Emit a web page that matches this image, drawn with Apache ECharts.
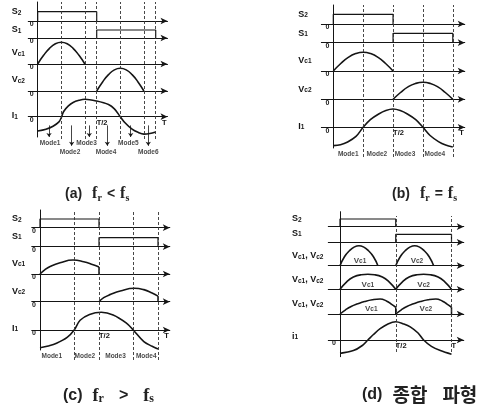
<!DOCTYPE html>
<html><head><meta charset="utf-8">
<script src="https://cdn.jsdelivr.net/npm/echarts@6/dist/echarts.min.js"></script>
<style>html,body{margin:0;padding:0;background:#fff}#c{width:485px;height:414px}</style>
</head><body><div id="c"></div>
<script>
// ================= DATA (time in units of the period T, amplitudes normalised) =================
const tickHalf = 'T/2';
const tickFull = 'T';
const tickZero = '0';
const modeNames6 = ['Mode1', 'Mode2', 'Mode3', 'Mode4', 'Mode5', 'Mode6'];
const modeNames4 = ['Mode1', 'Mode2', 'Mode3', 'Mode4'];

// (a) fr < fs
const aS2 = [[0, 0], [0, 1], [0.5, 1], [0.5, 0]];
const aS1 = [[0.5, 0], [0.5, 1], [1, 1], [1, 0]];
const aVc1 = [[0, 0], [0.05, 0.4], [0.1, 0.72], [0.15, 0.93], [0.2, 1], [0.25, 0.93], [0.3, 0.72], [0.35, 0.4], [0.4, 0]];
const aVc2 = [[0.5, 0], [0.55, 0.4], [0.6, 0.72], [0.65, 0.93], [0.7, 1], [0.75, 0.93], [0.8, 0.72], [0.85, 0.4], [0.9, 0]];
const aI1 = [[0, -0.82], [0.07, -0.72], [0.13, -0.55], [0.18, -0.3], [0.2, -0.05], [0.22, 0.3], [0.26, 0.62], [0.3, 0.82], [0.35, 0.94], [0.4, 1.0], [0.5, 0.9], [0.6, 0.7], [0.65, 0.45], [0.7, 0], [0.74, -0.35], [0.8, -0.72], [0.85, -0.9], [0.9, -1.0], [0.95, -0.97], [1.0, -0.88]];
const aBounds = [0.2, 0.4, 0.5, 0.7, 0.9, 1.0];
const aModeCenters = [0.105, 0.274, 0.414, 0.579, 0.768, 0.937];
const aModeArrows = [0.096, 0.288, 0.437, 0.59, 0.788, 0.937];

// (b) fr = fs
const bS2 = [[0, 0], [0, 1], [0.5, 1], [0.5, 0]];
const bS1 = [[0.5, 0], [0.5, 1], [1, 1], [1, 0]];
const bVc1 = [[0, 0], [0.0625, 0.4], [0.125, 0.73], [0.1875, 0.93], [0.25, 1], [0.3125, 0.93], [0.375, 0.73], [0.4375, 0.4], [0.5, 0]];
const bVc2 = [[0.5, 0], [0.5625, 0.4], [0.625, 0.73], [0.6875, 0.93], [0.75, 1], [0.8125, 0.93], [0.875, 0.73], [0.9375, 0.4], [1, 0]];
const bI1 = [[0, -1.0], [0.06, -0.95], [0.12, -0.8], [0.19, -0.5], [0.25, 0], [0.31, 0.42], [0.38, 0.73], [0.44, 0.92], [0.5, 1.0], [0.56, 0.92], [0.62, 0.73], [0.69, 0.42], [0.75, 0], [0.81, -0.45], [0.88, -0.78], [0.94, -0.97], [1.0, -1.08]];
const bBounds = [0.25, 0.5, 0.75, 1.0];
const bModeCenters = [0.125, 0.365, 0.6, 0.85];

// (c) fr > fs
const cS2 = [[0, 0], [0, 1], [0.5, 1], [0.5, 0]];
const cS1 = [[0.5, 0], [0.5, 1], [1, 1], [1, 0]];
const cVc1 = [[0, 0], [0.04, 0.3], [0.09, 0.55], [0.17, 0.8], [0.28, 1.0], [0.37, 0.88], [0.45, 0.66], [0.5, 0.5]];
const cVc2 = [[0.5, 0], [0.54, 0.3], [0.6, 0.55], [0.68, 0.8], [0.8, 1.0], [0.88, 0.9], [0.95, 0.65], [1.0, 0.42]];
const cI1 = [[0, -1.0], [0.07, -0.9], [0.14, -0.75], [0.23, -0.42], [0.29, 0], [0.34, 0.55], [0.42, 0.88], [0.52, 1.0], [0.62, 0.85], [0.73, 0.4], [0.79, 0], [0.88, -0.66], [0.95, -0.92], [1.0, -1.07]];
const cBounds = [0.29, 0.5, 0.79, 1.0];
const cModeCenters = [0.1, 0.38, 0.64, 0.9];

// (d) composite waveforms
const dS2 = [[0, 0], [0, 1], [0.5, 1], [0.5, 0]];
const dS1 = [[0.5, 0], [0.5, 1], [1, 1], [1, 0]];
const dLowVc1 = [[0, 0], [0.04, 0.45], [0.085, 0.75], [0.13, 0.94], [0.17, 1], [0.21, 0.94], [0.255, 0.75], [0.3, 0.45], [0.34, 0]];
const dLowVc2 = [[0.5, 0], [0.54, 0.45], [0.585, 0.75], [0.63, 0.94], [0.67, 1], [0.71, 0.94], [0.755, 0.75], [0.8, 0.45], [0.84, 0]];
const dEqVc1 = [[0, 0], [0.06, 0.5], [0.12, 0.82], [0.19, 0.97], [0.25, 1], [0.31, 0.97], [0.38, 0.82], [0.44, 0.5], [0.5, 0]];
const dEqVc2 = [[0.5, 0], [0.56, 0.5], [0.62, 0.82], [0.69, 0.97], [0.75, 1], [0.81, 0.97], [0.88, 0.82], [0.94, 0.5], [1, 0]];
const dHighVc1 = [[0, 0], [0.05, 0.28], [0.1, 0.5], [0.16, 0.68], [0.22, 0.83], [0.29, 0.95], [0.36, 1], [0.42, 0.85], [0.46, 0.66], [0.5, 0.45]];
const dHighVc2 = [[0.5, 0], [0.55, 0.28], [0.6, 0.5], [0.66, 0.68], [0.72, 0.83], [0.79, 0.95], [0.86, 1], [0.92, 0.85], [0.96, 0.66], [1, 0.45]];
const dI1 = [[0, -0.73], [0.12, -0.58], [0.2, -0.3], [0.25, 0], [0.3, 0.3], [0.36, 0.62], [0.43, 0.88], [0.5, 1.0], [0.57, 0.88], [0.63, 0.72], [0.7, 0.38], [0.75, 0], [0.82, -0.35], [0.9, -0.58], [1.0, -0.78]];
const dBounds = [0.5, 1.0];
const dHumpLabelT = [[0.18, 0.69], [0.25, 0.75], [0.28, 0.77]];
const dHumpLabelV = [0.24, 0.29, 0.38];

// ================= LAYOUT / STYLE =================
const ink = '#151515';
const FONT = '"Liberation Sans", Arial, "DejaVu Sans", sans-serif';
const SERIF = '"Liberation Serif", "DejaVu Serif", serif';
const KR = '"Noto Sans CJK KR", sans-serif';

const panels = [
  { x0: 37.7, s: 118, xmin: -0.08, xmax: 1.1, top: 2, nameGap: 26, zeroAll: true, tAtArrow: true,
    rows: [
      { label: 'S{s|2}', base: 21, unit: 9.3, labelY: 12, curves: [{ data: aS2 }] },
      { label: 'S{s|1}', base: 38, unit: 8, labelY: 30, curves: [{ data: aS1 }] },
      { label: 'V{s|c1}', base: 64, unit: 21.7, labelY: 53, curves: [{ data: aVc1, smooth: true }] },
      { label: 'V{s|c2}', base: 91, unit: 22.7, labelY: 80, curves: [{ data: aVc2, smooth: true }] },
      { label: 'I{s|1}', base: 116.7, unit: 17.4, bottom: 137, labelY: 116, curves: [{ data: aI1, smooth: 0.35 }], isI: true }
    ],
    dash: { top: 2, bottom: 139, values: aBounds },
    modes: { top: 122, bottom: 156, names: modeNames6, centers: aModeCenters, levels: [0.374, 0.109],
             arrows: aModeArrows, arrowTop: 0.9, arrowEnds: [0.56, 0.3] }
  },
  { x0: 333.3, s: 119.5, xmin: -0.1, xmax: 1.1, top: 5, nameGap: 35, zeroAll: true, tAtArrow: true,
    rows: [
      { label: 'S{s|2}', base: 24, unit: 9.7, labelY: 14.3, curves: [{ data: bS2 }] },
      { label: 'S{s|1}', base: 42.7, unit: 9.4, labelY: 33.3, curves: [{ data: bS1 }] },
      { label: 'V{s|c1}', base: 71, unit: 18.7, labelY: 60.7, curves: [{ data: bVc1, smooth: true }] },
      { label: 'V{s|c2}', base: 99.3, unit: 17, labelY: 89.3, curves: [{ data: bVc2, smooth: true }] },
      { label: 'I{s|1}', base: 127.3, unit: 18.3, bottom: 148, labelY: 126.7, curves: [{ data: bI1, smooth: 0.35 }], isI: true }
    ],
    dash: { top: 5, bottom: 157, values: bBounds },
    modes: { top: 150, bottom: 158, names: modeNames4, centers: bModeCenters, levels: [0.5] }
  },
  { x0: 40, s: 118, xmin: -0.07, xmax: 1.1, top: 210, nameGap: 28, zeroAll: true, tAtArrow: true,
    rows: [
      { label: 'S{s|2}', base: 227.7, unit: 8.7, labelY: 219, curves: [{ data: cS2 }] },
      { label: 'S{s|1}', base: 246.7, unit: 9, labelY: 236.7, curves: [{ data: cS1 }] },
      { label: 'V{s|c1}', base: 274, unit: 14, labelY: 263.3, curves: [{ data: cVc1, smooth: true, drop: true }] },
      { label: 'V{s|c2}', base: 301.7, unit: 13.4, labelY: 291.7, curves: [{ data: cVc2, smooth: true, drop: true }] },
      { label: 'I{s|1}', base: 330, unit: 17.7, bottom: 350, labelY: 328.3, curves: [{ data: cI1, smooth: 0.35 }], isI: true }
    ],
    dash: { top: 210, bottom: 360, values: cBounds },
    modes: { top: 352.7, bottom: 360.7, names: modeNames4, centers: cModeCenters, levels: [0.5] }
  },
  { x0: 340, s: 111.5, xmin: -0.105, xmax: 1.11, top: 211.7, nameGap: 48, zeroAll: false, tAtArrow: false,
    rows: [
      { label: 'S{s|2}', base: 226.7, unit: 7.7, labelY: 219, curves: [{ data: dS2 }] },
      { label: 'S{s|1}', base: 242.3, unit: 8, labelY: 233.3, curves: [{ data: dS1 }] },
      { label: 'V{s|c1}, V{s|c2}', base: 265.7, unit: 20, labelY: 256, curves: [{ data: dLowVc1, smooth: true }, { data: dLowVc2, smooth: true }], hump: 0 },
      { label: 'V{s|c1}, V{s|c2}', base: 289.3, unit: 15, labelY: 280, curves: [{ data: dEqVc1, smooth: true }, { data: dEqVc2, smooth: true }], hump: 1 },
      { label: 'V{s|c1}, V{s|c2}', base: 314, unit: 15, labelY: 304, curves: [{ data: dHighVc1, smooth: true, drop: true }, { data: dHighVc2, smooth: true, drop: true }], hump: 2 },
      { label: 'i{s|1}', base: 340, unit: 18.3, bottom: 356.7, labelY: 336.7, curves: [{ data: dI1, smooth: 0.35 }], isI: true, zero: true }
    ],
    dash: { top: 216, bottom: 352, values: dBounds }
  }
];

const captions = [
  { text: '{p|(a)}  {f|f}{b|r} {o|<} {f|f}{b|s}', left: 65, top: 185, size: 14 },
  { text: '{p|(b)}  {f|f}{b|r} {o|=} {f|f}{b|s}', left: 392, top: 185, size: 14 },
  { text: '{p|(c)}  {f|f}{b|r}   {o|>}   {f|f}{b|s}', left: 63, top: 387, size: 16 },
  { text: '{p|(d)}  {k|종합}   {k|파형}', left: 362, top: 385, size: 16 }
];

// ================= BUILD =================
const grids = [], xAxes = [], yAxes = [], series = [];
function addGrid(left, top, width, height) {
  grids.push({ left: left, top: top, width: width, height: height, containLabel: false, outerBoundsMode: 'none' });
  return grids.length - 1;
}
const labelRich = {
  s: { fontSize: 6.5, fontWeight: 'bold', color: ink, fontFamily: FONT, verticalAlign: 'bottom' }
};

panels.forEach(function (p) {
  const left = p.x0 + p.xmin * p.s;
  const width = (p.xmax - p.xmin) * p.s;

  // dashed mode boundaries (overlay spanning the whole panel)
  let gi = addGrid(left, p.dash.top, width, p.dash.bottom - p.dash.top);
  xAxes.push({ gridIndex: gi, type: 'value', min: p.xmin, max: p.xmax, show: false });
  yAxes.push({ gridIndex: gi, type: 'value', min: 0, max: 1, show: false });
  series.push({
    type: 'line', xAxisIndex: xAxes.length - 1, yAxisIndex: yAxes.length - 1,
    data: p.dash.values.map(function (t) { return [t, 0]; }), symbol: 'none',
    lineStyle: { width: 0, opacity: 0 }, silent: true, z: 1,
    markLine: {
      silent: true, symbol: ['none', 'none'], label: { show: false }, animation: false,
      lineStyle: { color: '#333', type: [3, 2], width: 0.9 },
      data: p.dash.values.map(function (t) { return { xAxis: t }; })
    }
  });

  let prev = p.top;
  p.rows.forEach(function (r) {
    const top = prev;
    const bottom = (r.bottom !== undefined) ? r.bottom : r.base;
    const g = addGrid(left, top, width, bottom - top);
    const yMax = (r.base - top) / r.unit;
    const yMin = -(bottom - r.base) / r.unit;
    const mid = (top + bottom) / 2;
    const d = r.labelY - mid;
    const pad = d >= 0 ? [2 * d, 0, 0, 0] : [0, 0, -2 * d, 0];
    const showZero = p.zeroAll || r.zero;

    const xa = {
      gridIndex: g, type: 'value', min: p.xmin, max: p.xmax, position: 'bottom',
      offset: -(bottom - r.base),
      axisLine: { show: true, onZero: false, symbol: ['none', 'arrow'], symbolSize: [5, 7], lineStyle: { color: ink, width: 1 } },
      axisTick: { show: false }, splitLine: { show: false },
      axisLabel: { show: false }
    };
    if (r.isI) {
      xa.axisLabel = {
        show: true, customValues: p.tAtArrow ? [0.5] : [0.5, 1],
        formatter: function (v) { return v === 0.5 ? tickHalf : tickFull; },
        align: 'left', margin: 2, fontSize: 7.5, fontWeight: 'bold', color: ink, fontFamily: FONT
      };
      if (p.tAtArrow) {
        xa.name = tickFull; xa.nameLocation = 'end'; xa.nameGap = -1;
        xa.nameTextStyle = { align: 'right', verticalAlign: 'top', padding: [2, 0, 0, 0], fontSize: 7.5, fontWeight: 'bold', color: ink, fontFamily: FONT };
      }
    }
    xAxes.push(xa);

    yAxes.push({
      gridIndex: g, type: 'value', min: yMin, max: yMax, position: 'left',
      offset: p.xmin * p.s,
      axisLine: { show: true, onZero: false, lineStyle: { color: ink, width: 1 } },
      axisTick: { show: false }, splitLine: { show: false },
      axisLabel: showZero ? {
        show: true, customValues: [0], formatter: function () { return tickZero; },
        verticalAlign: 'top', margin: 4, fontSize: 7, fontWeight: 'bold', color: ink, fontFamily: FONT
      } : { show: false },
      name: r.label, nameLocation: 'middle', nameRotate: 0, nameGap: p.nameGap, nameMoveOverlap: false,
      nameTextStyle: { align: 'left', verticalAlign: 'middle', fontSize: 9, fontWeight: 'bold', color: ink,
        fontFamily: FONT, padding: pad, rich: labelRich }
    });
    const xi = xAxes.length - 1, yi = yAxes.length - 1;

    r.curves.forEach(function (c) {
      series.push({
        type: 'line', xAxisIndex: xi, yAxisIndex: yi, data: c.data, smooth: c.smooth || false,
        symbol: 'none', clip: false, silent: true, z: 3,
        lineStyle: { color: ink, width: c.smooth ? 1.6 : 1.2 }
      });
      if (c.drop) {
        const last = c.data[c.data.length - 1];
        series.push({
          type: 'line', xAxisIndex: xi, yAxisIndex: yi, data: [[last[0], last[1]], [last[0], 0]],
          symbol: 'none', clip: false, silent: true, z: 3, lineStyle: { color: ink, width: 1.5 }
        });
      }
    });

    if (r.hump !== undefined) {
      const ts = dHumpLabelT[r.hump];
      series.push({
        type: 'scatter', xAxisIndex: xi, yAxisIndex: yi, symbolSize: 1, silent: true, z: 4,
        itemStyle: { color: 'rgba(0,0,0,0)' },
        data: [{ name: 'V{s|c1}', value: [ts[0], dHumpLabelV[r.hump]] }, { name: 'V{s|c2}', value: [ts[1], dHumpLabelV[r.hump]] }],
        label: { show: true, position: 'inside', formatter: '{b}', fontSize: 8, fontWeight: 'bold', color: ink, fontFamily: FONT, rich: labelRich }
      });
    }
    prev = r.base;
  });

  if (p.modes) {
    const m = p.modes;
    const mg = addGrid(left, m.top, width, m.bottom - m.top);
    xAxes.push({ gridIndex: mg, type: 'value', min: p.xmin, max: p.xmax, show: false });
    yAxes.push({ gridIndex: mg, type: 'value', min: 0, max: 1, show: false });
    const ms = {
      type: 'scatter', xAxisIndex: xAxes.length - 1, yAxisIndex: yAxes.length - 1,
      symbolSize: 1, silent: true, z: 4, itemStyle: { color: 'rgba(0,0,0,0)' },
      data: m.names.map(function (n, i) { return { name: n, value: [m.centers[i], m.levels[i % m.levels.length]] }; }),
      label: { show: true, position: 'inside', formatter: '{b}', fontSize: 6.5, fontWeight: 'bold', color: ink, fontFamily: FONT }
    };
    if (m.arrows) {
      ms.markLine = {
        silent: true, symbol: ['none', 'arrow'], symbolSize: 4, label: { show: false }, animation: false,
        lineStyle: { color: ink, width: 0.8, type: 'solid' },
        data: m.arrows.map(function (t, i) { return [{ coord: [t, m.arrowTop] }, { coord: [t, m.arrowEnds[i % 2]] }]; })
      };
    }
    series.push(ms);
  }
});

const titles = captions.map(function (c) {
  return {
    text: c.text, left: c.left, top: c.top, padding: 0,
    textStyle: {
      rich: {
        p: { fontFamily: FONT, fontSize: c.size, color: '#222' },
        o: { fontFamily: FONT, fontSize: c.size, color: '#222' },
        f: { fontFamily: SERIF, fontSize: c.size + 2, color: '#222' },
        b: { fontFamily: SERIF, fontSize: c.size - 4, color: '#222', verticalAlign: 'bottom' },
        k: { fontFamily: KR, fontSize: c.size + 3, color: '#222' }
      }
    }
  };
});

const chart = echarts.init(document.getElementById('c'), null, { renderer: 'canvas' });
chart.setOption({
  animation: false,
  backgroundColor: '#fff',
  textStyle: { fontFamily: FONT },
  title: titles,
  grid: grids,
  xAxis: xAxes,
  yAxis: yAxes,
  series: series
});
</script>
</body></html>
